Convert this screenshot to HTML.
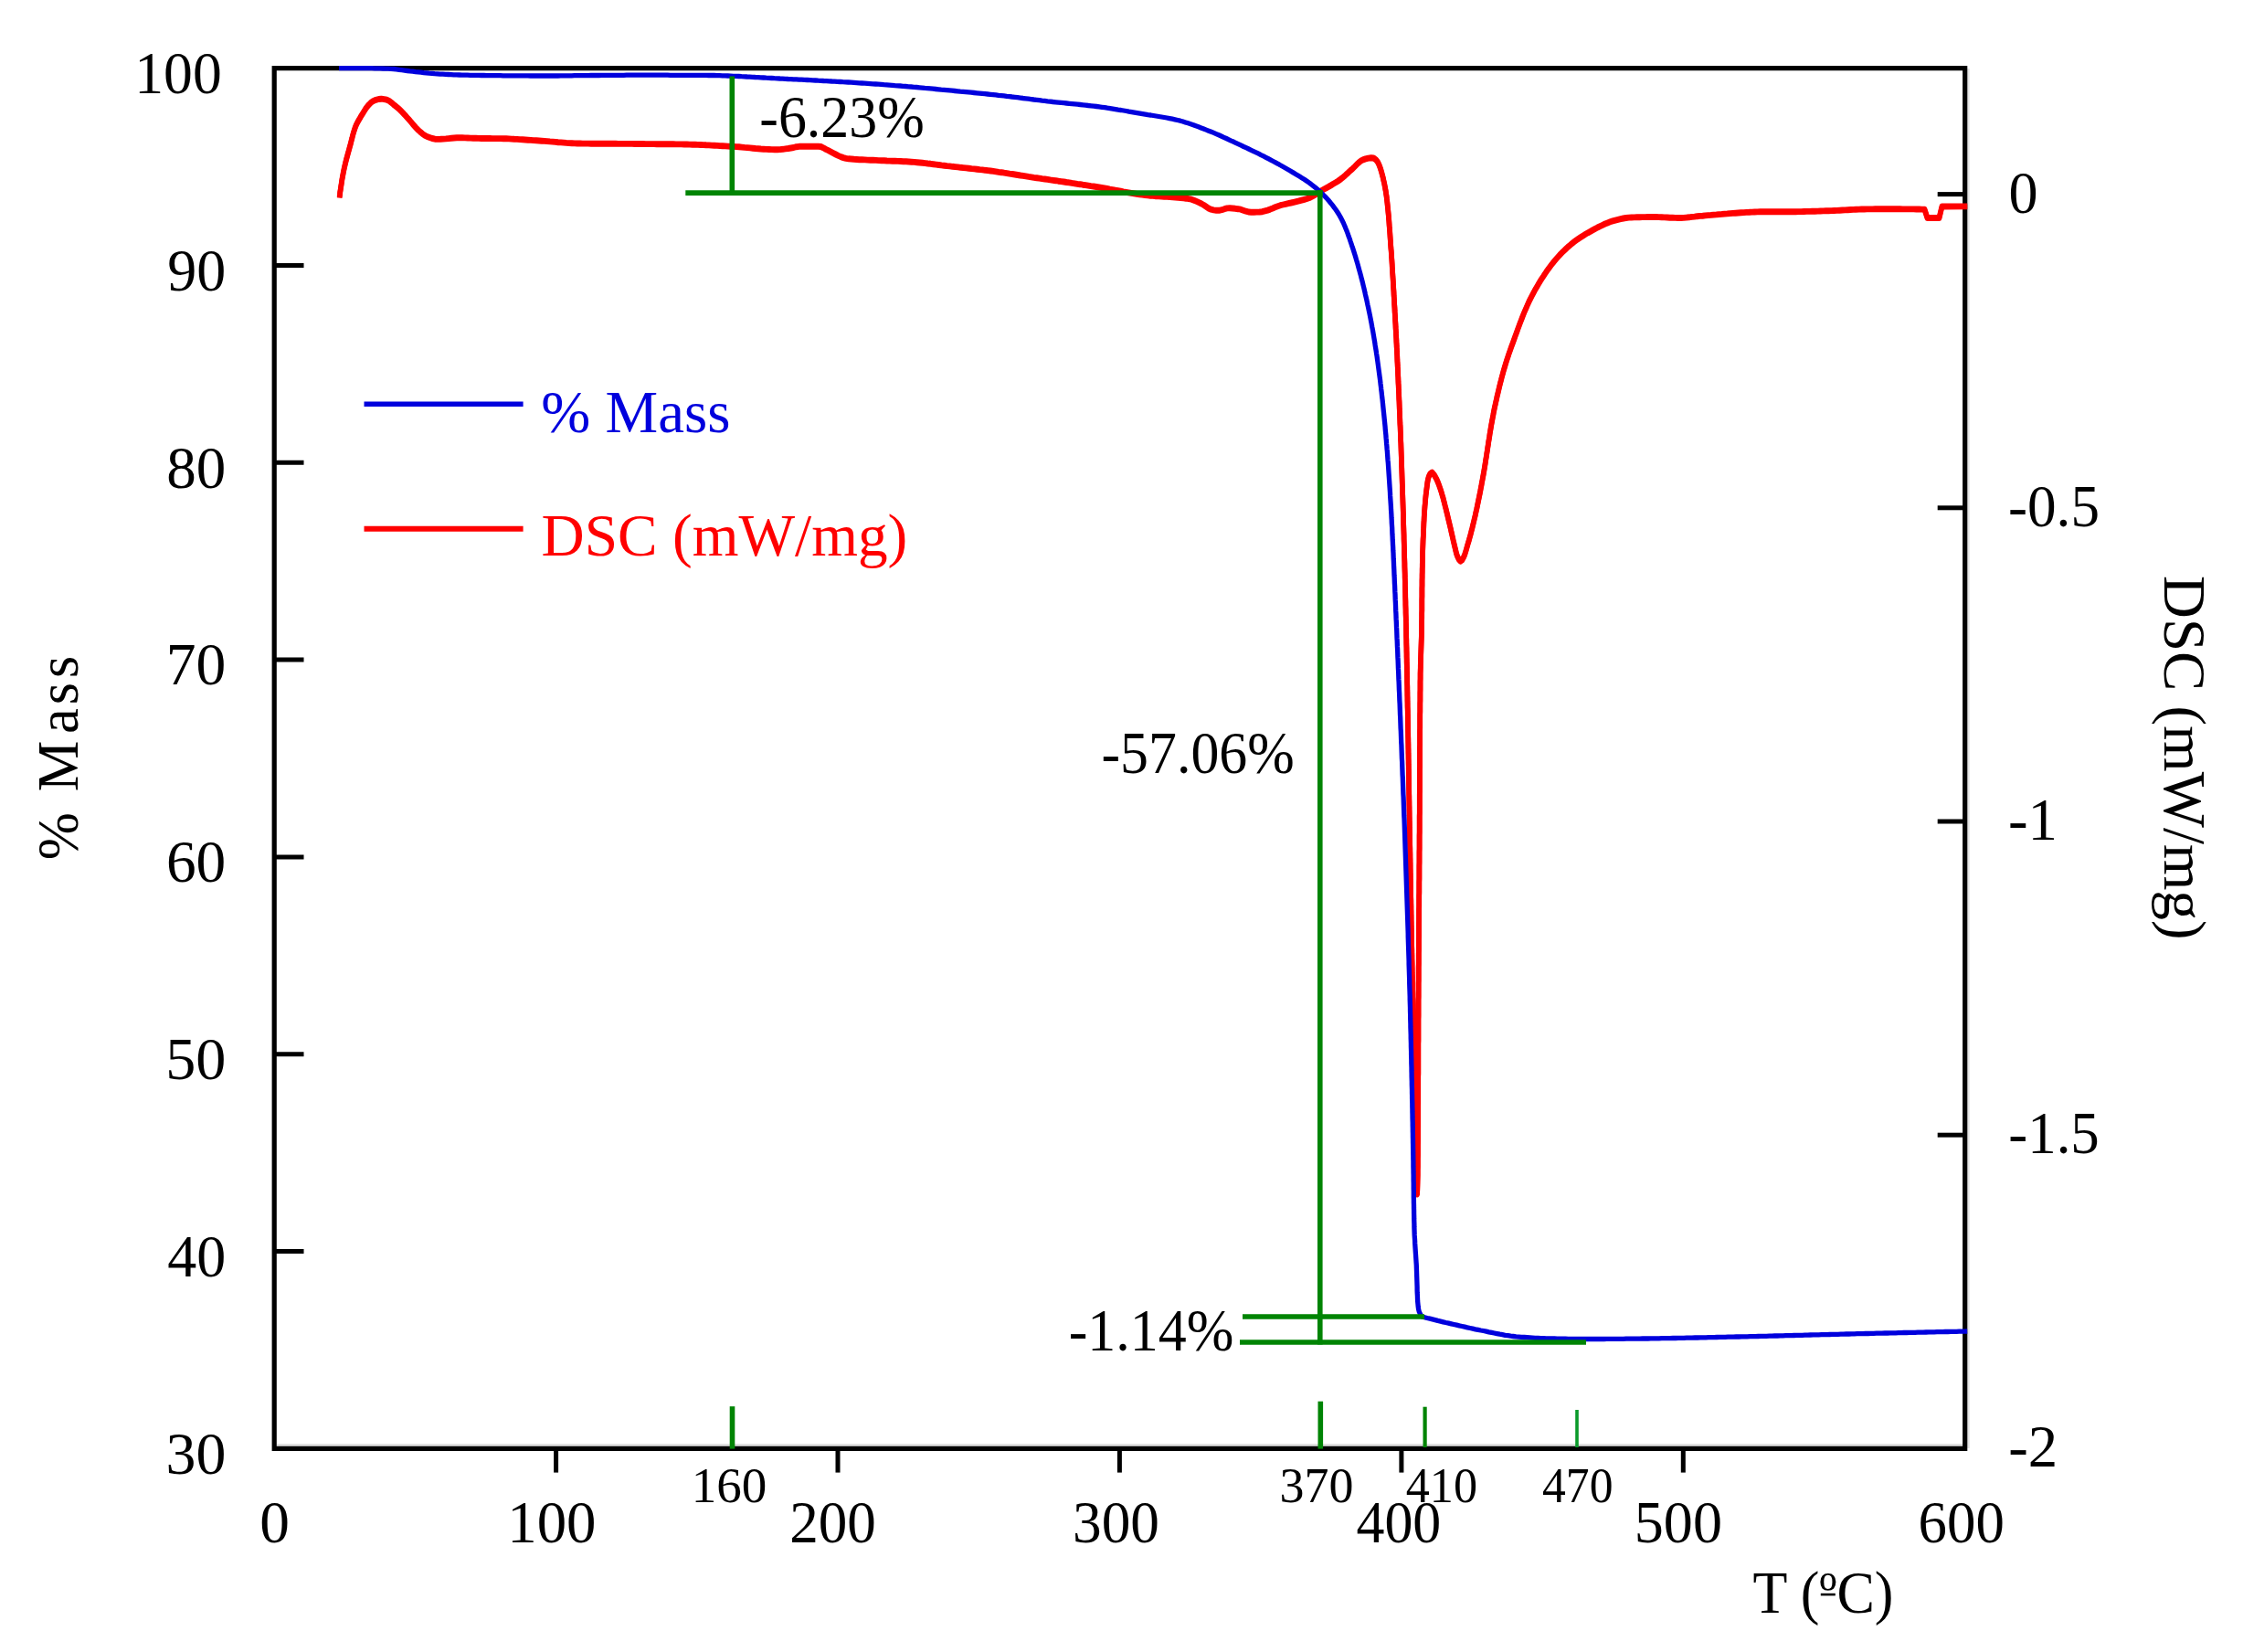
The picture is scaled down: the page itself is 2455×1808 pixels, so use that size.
<!DOCTYPE html>
<html lang="en"><head><meta charset="utf-8"><title>TGA / DSC curve</title>
<style>html,body{margin:0;padding:0;background:#fff}body{width:2455px;height:1808px;overflow:hidden}svg{display:block}text{font-family:"Liberation Serif",serif;font-size:64px;fill:#000}.s{font-size:55px}</style></head><body>
<svg width="2455" height="1808" viewBox="0 0 2455 1808">
<rect width="2455" height="1808" fill="#fff"/>
<path d="M303 1581.8H2148.2" stroke="#dcdcdc" stroke-width="3"/><path d="M2154.4 75V1585" stroke="#e2e2e2" stroke-width="2.6"/>
<rect x="300.20" y="74.65" width="1850.50" height="1510.75" fill="none" stroke="#000" stroke-width="5.2"/>
<g stroke="#000" stroke-width="5" fill="none">
<path d="M300.2 290.5H332.5"/>
<path d="M300.2 506.3H332.5"/>
<path d="M300.2 722.1H332.5"/>
<path d="M300.2 937.9H332.5"/>
<path d="M300.2 1153.8H332.5"/>
<path d="M300.2 1369.6H332.5"/>
<path d="M2120.7 212.6H2150.7"/>
<path d="M2120.7 555.8H2150.7"/>
<path d="M2120.7 899.0H2150.7"/>
<path d="M2120.7 1242.2H2150.7"/>
<path d="M608.6 1585.4V1611.6"/>
<path d="M917.0 1585.4V1611.6"/>
<path d="M1225.4 1585.4V1611.6"/>
<path d="M1533.9 1585.4V1611.6"/>
<path d="M1842.3 1585.4V1611.6"/>
</g>
<g stroke="#ff0000" stroke-width="5.7" fill="none" stroke-linejoin="round"><path id="dsc" d="M371.6 216.0 372.0 213.0 372.3 210.0 372.8 207.1 373.2 204.1 373.7 201.1 374.1 198.2 374.6 195.2 375.2 192.3 375.7 189.3 376.3 186.4 376.9 183.4 377.6 180.5 378.3 177.6 379.0 174.7 379.8 171.8 380.6 168.9 381.4 166.0 382.2 163.1 383.0 160.2 383.8 157.3 384.5 154.4 385.3 151.4 386.0 148.5 386.8 145.6 387.7 142.8 388.6 140.0 389.7 137.2 391.0 134.5 392.5 131.8 394.0 129.2 395.5 126.6 397.1 124.1 398.7 121.5 400.3 118.9 402.1 116.5 404.0 114.3 406.2 112.2 408.7 110.4 411.4 109.3 414.4 108.5 417.4 108.2 420.4 108.6 423.3 109.2 425.9 110.4 428.4 112.3 430.7 114.3 433.1 116.2 435.3 118.1 437.6 120.1 439.7 122.2 441.8 124.4 443.8 126.6 445.8 128.9 447.8 131.1 449.8 133.4 451.7 135.7 453.7 138.0 455.7 140.2 457.8 142.4 460.0 144.4 462.3 146.3 464.8 148.1 467.4 149.5 470.2 150.5 473.1 151.5 476.1 152.2 479.0 152.4 482.0 152.3 485.0 152.1 488.0 151.9 491.0 151.6 494.0 151.3 497.0 151.0 500.0 150.8 503.0 150.8 506.0 150.8 509.0 150.9 512.0 151.0 515.0 151.1 518.0 151.2 521.0 151.3 524.0 151.4 527.0 151.5 530.0 151.5 533.0 151.5 536.0 151.5 539.0 151.6 542.0 151.6 545.0 151.6 548.0 151.6 551.0 151.7 554.0 151.8 557.0 151.9 560.0 152.1 563.0 152.3 566.0 152.4 569.0 152.6 572.0 152.8 575.0 153.0 578.0 153.2 581.0 153.4 584.0 153.6 587.0 153.8 590.0 154.0 593.0 154.2 595.9 154.4 598.9 154.6 601.9 154.9 604.9 155.1 607.9 155.4 610.9 155.7 613.9 155.9 616.9 156.1 619.9 156.4 622.9 156.6 625.9 156.7 628.9 156.9 631.9 157.0 634.9 157.0 637.9 157.1 640.9 157.1 643.9 157.1 646.9 157.2 649.9 157.2 652.9 157.2 655.9 157.2 658.9 157.2 661.9 157.3 664.9 157.3 667.9 157.3 670.9 157.3 673.9 157.3 676.9 157.4 679.9 157.4 682.9 157.4 685.9 157.4 688.9 157.4 691.9 157.4 694.9 157.5 697.9 157.5 700.9 157.5 703.9 157.5 706.9 157.6 709.9 157.6 712.9 157.6 715.9 157.6 718.9 157.7 721.9 157.7 724.9 157.7 727.9 157.7 730.9 157.8 733.9 157.8 736.9 157.8 739.9 157.9 742.9 157.9 745.9 157.9 748.9 158.0 751.9 158.0 754.9 158.1 757.9 158.2 760.9 158.3 763.9 158.4 766.9 158.5 769.9 158.6 772.9 158.8 775.9 158.9 778.9 159.1 781.9 159.2 784.9 159.4 787.9 159.6 790.9 159.7 793.9 159.9 796.9 160.1 799.9 160.2 802.9 160.4 805.9 160.6 808.9 160.8 811.9 161.1 814.9 161.4 817.9 161.6 820.9 161.9 823.9 162.2 826.9 162.5 829.8 162.7 832.8 163.0 835.8 163.2 838.8 163.4 841.8 163.5 844.8 163.6 847.8 163.7 850.8 163.7 853.8 163.6 856.8 163.3 859.8 162.9 862.7 162.5 865.7 162.0 868.7 161.5 871.6 160.7 874.6 160.3 877.5 160.3 880.6 160.3 883.6 160.3 886.7 160.3 889.7 160.3 892.7 160.3 895.6 160.3 898.5 160.5 901.2 161.8 903.9 163.4 906.6 164.7 909.3 166.1 912.1 167.6 914.8 169.0 917.5 170.4 920.3 171.6 923.1 172.6 925.9 173.4 928.8 173.8 931.7 174.0 934.6 174.3 937.6 174.5 940.6 174.7 943.6 174.8 946.6 174.9 949.7 175.1 952.7 175.2 955.7 175.3 958.8 175.4 961.8 175.6 964.8 175.7 967.8 175.8 970.8 176.0 973.8 176.1 976.8 176.2 979.8 176.3 982.8 176.4 985.8 176.5 988.8 176.7 991.8 176.8 994.7 177.0 997.7 177.2 1000.7 177.4 1003.7 177.7 1006.7 178.0 1009.7 178.3 1012.7 178.6 1015.6 179.0 1018.6 179.3 1021.6 179.7 1024.6 180.1 1027.6 180.5 1030.5 180.9 1033.5 181.2 1036.5 181.6 1039.5 181.9 1042.5 182.3 1045.5 182.6 1048.4 182.9 1051.4 183.3 1054.4 183.6 1057.4 183.9 1060.4 184.2 1063.4 184.6 1066.3 184.9 1069.3 185.2 1072.3 185.6 1075.3 185.9 1078.3 186.3 1081.2 186.6 1084.2 187.0 1087.2 187.4 1090.2 187.8 1093.1 188.3 1096.1 188.7 1099.1 189.2 1102.0 189.6 1105.0 190.1 1108.0 190.5 1110.9 191.0 1113.9 191.5 1116.9 192.0 1119.8 192.4 1122.8 192.9 1125.8 193.4 1128.7 193.8 1131.7 194.3 1134.7 194.7 1137.6 195.1 1140.6 195.6 1143.6 196.0 1146.5 196.4 1149.5 196.9 1152.5 197.3 1155.5 197.7 1158.4 198.2 1161.4 198.6 1164.4 199.0 1167.3 199.5 1170.3 199.9 1173.3 200.4 1176.2 200.8 1179.2 201.3 1182.2 201.7 1185.1 202.2 1188.1 202.6 1191.1 203.1 1194.0 203.6 1197.0 204.0 1200.0 204.5 1202.9 205.0 1205.9 205.5 1208.8 206.0 1211.8 206.5 1214.8 207.1 1217.7 207.6 1220.7 208.2 1223.6 208.7 1226.6 209.2 1229.5 209.8 1232.5 210.3 1235.4 210.8 1238.4 211.3 1241.4 211.8 1244.3 212.3 1247.3 212.7 1250.3 213.1 1253.2 213.5 1256.2 213.9 1259.2 214.2 1262.2 214.4 1265.2 214.7 1268.2 214.9 1271.3 215.1 1274.3 215.3 1277.3 215.4 1280.4 215.6 1283.4 215.8 1286.4 216.0 1289.4 216.3 1292.3 216.5 1295.3 216.9 1298.2 217.2 1301.1 217.7 1304.0 218.2 1306.8 219.2 1309.6 220.4 1312.3 221.7 1315.1 223.0 1317.7 224.5 1320.3 226.3 1322.8 228.0 1325.5 229.2 1328.3 229.8 1331.3 230.2 1334.3 230.3 1337.3 229.7 1340.2 228.7 1343.1 227.9 1346.0 227.8 1349.0 228.0 1352.0 228.3 1355.0 228.7 1358.0 229.2 1360.8 230.2 1363.7 231.2 1366.6 232.0 1369.5 232.2 1372.5 232.2 1375.6 232.1 1378.6 232.0 1381.5 231.7 1384.5 230.9 1387.4 230.1 1390.2 229.1 1393.0 228.0 1395.7 226.8 1398.5 225.7 1401.4 224.7 1404.3 224.0 1407.2 223.3 1410.1 222.6 1413.0 222.0 1416.0 221.3 1418.9 220.6 1421.8 219.9 1424.7 219.1 1427.7 218.3 1430.5 217.5 1433.3 216.5 1436.0 215.2 1438.6 213.7 1441.1 212.1 1443.7 210.4 1446.2 208.8 1448.8 207.3 1451.5 205.8 1454.1 204.4 1456.7 202.9 1459.3 201.3 1461.9 199.8 1464.4 198.2 1466.8 196.5 1469.2 194.7 1471.5 192.8 1473.7 190.7 1475.9 188.7 1478.1 186.6 1480.4 184.7 1482.6 182.5 1484.8 180.2 1487.0 178.1 1489.3 176.2 1491.8 174.9 1494.6 173.9 1497.7 173.1 1500.7 172.7 1503.4 173.0 1506.0 174.9 1507.8 177.1 1509.2 179.8 1510.3 182.7 1511.3 185.6 1512.1 188.4 1512.9 191.3 1513.7 194.3 1514.3 197.2 1515.0 200.1 1515.6 203.1 1516.1 206.0 1516.7 209.0 1517.1 212.0 1517.6 214.9 1517.9 217.9 1518.3 220.9 1518.6 223.8 1518.9 226.8 1519.2 229.8 1519.5 232.8 1519.8 235.8 1520.0 238.8 1520.3 241.8 1520.5 244.8 1520.7 247.8 1521.0 250.8 1521.2 253.8 1521.4 256.8 1521.6 259.8 1521.8 262.8 1522.0 265.7 1522.2 268.7 1522.4 271.7 1522.7 274.7 1522.9 277.7 1523.1 280.7 1523.3 283.7 1523.5 286.7 1523.7 289.7 1523.8 292.7 1524.0 295.7 1524.2 298.7 1524.4 301.7 1524.6 304.7 1524.8 307.7 1524.9 310.7 1525.1 313.7 1525.3 316.7 1525.5 319.7 1525.6 322.7 1525.8 325.7 1526.0 328.7 1526.1 331.6 1526.3 334.6 1526.5 337.6 1526.6 340.6 1526.8 343.6 1527.0 346.6 1527.1 349.6 1527.3 352.6 1527.5 355.6 1527.6 358.6 1527.8 361.6 1527.9 364.6 1528.1 367.6 1528.3 370.6 1528.4 373.6 1528.6 376.6 1528.7 379.6 1528.9 382.6 1529.0 385.6 1529.2 388.6 1529.3 391.6 1529.4 394.6 1529.6 397.6 1529.7 400.6 1529.9 403.6 1530.0 406.6 1530.1 409.6 1530.3 412.6 1530.4 415.6 1530.5 418.6 1530.7 421.6 1530.8 424.6 1530.9 427.6 1531.1 430.6 1531.2 433.6 1531.3 436.6 1531.5 439.6 1531.6 442.6 1531.7 445.6 1531.8 448.6 1532.0 451.6 1532.1 454.6 1532.2 457.6 1532.3 460.6 1532.4 463.6 1532.6 466.6 1532.7 469.6 1532.8 472.6 1532.9 475.5 1533.0 478.5 1533.1 481.5 1533.3 484.5 1533.4 487.5 1533.5 490.5 1533.6 493.5 1533.7 496.5 1533.8 499.5 1533.9 502.5 1534.0 505.5 1534.1 508.5 1534.2 511.5 1534.3 514.5 1534.4 517.5 1534.5 520.5 1534.6 523.5 1534.7 526.5 1534.8 529.5 1534.9 532.5 1535.0 535.5 1535.1 538.5 1535.2 541.5 1535.3 544.5 1535.4 547.5 1535.5 550.5 1535.6 553.5 1535.7 556.5 1535.8 559.5 1535.9 562.5 1536.0 565.5 1536.0 568.5 1536.1 571.5 1536.2 574.5 1536.3 577.5 1536.4 580.5 1536.5 583.5 1536.6 586.5 1536.6 589.5 1536.7 592.5 1536.8 595.5 1536.9 598.5 1537.0 601.5 1537.0 604.5 1537.1 607.5 1537.2 610.5 1537.3 613.5 1537.4 616.5 1537.4 619.5 1537.5 622.5 1537.6 625.5 1537.7 628.5 1537.7 631.5 1537.8 634.5 1537.9 637.5 1537.9 640.5 1538.0 643.5 1538.1 646.5 1538.2 649.5 1538.2 652.5 1538.3 655.5 1538.4 658.5 1538.4 661.5 1538.5 664.5 1538.6 667.5 1538.6 670.5 1538.7 673.5 1538.8 676.5 1538.8 679.5 1538.9 682.5 1539.0 685.5 1539.0 688.5 1539.1 691.5 1539.1 694.6 1539.2 697.6 1539.3 700.6 1539.3 703.6 1539.4 706.6 1539.5 709.6 1539.5 712.6 1539.6 715.6 1539.6 718.6 1539.7 721.6 1539.7 724.6 1539.8 727.6 1539.9 730.6 1539.9 733.6 1540.0 736.6 1540.0 739.6 1540.1 742.6 1540.1 745.6 1540.2 748.6 1540.3 751.6 1540.3 754.6 1540.4 757.6 1540.4 760.6 1540.5 763.6 1540.5 766.6 1540.6 769.6 1540.6 772.6 1540.7 775.6 1540.8 778.6 1540.8 781.6 1540.9 784.6 1540.9 787.6 1541.0 790.6 1541.0 793.6 1541.1 796.6 1541.1 799.6 1541.2 802.6 1541.2 805.6 1541.3 808.6 1541.3 811.6 1541.4 814.6 1541.4 817.6 1541.5 820.6 1541.5 823.6 1541.6 826.6 1541.6 829.6 1541.7 832.6 1541.7 835.6 1541.8 838.6 1541.8 841.6 1541.9 844.6 1541.9 847.6 1542.0 850.6 1542.0 853.6 1542.0 856.6 1542.1 859.6 1542.1 862.6 1542.2 865.6 1542.2 868.6 1542.3 871.6 1542.3 874.6 1542.4 877.6 1542.4 880.6 1542.5 883.6 1542.5 886.6 1542.6 889.6 1542.6 892.6 1542.7 895.6 1542.7 898.6 1542.8 901.6 1542.8 904.6 1542.9 907.6 1542.9 910.6 1543.0 913.6 1543.0 916.6 1543.1 919.6 1543.1 922.6 1543.2 925.6 1543.3 928.6 1543.3 931.6 1543.4 934.6 1543.4 937.6 1543.5 940.6 1543.5 943.6 1543.6 946.6 1543.6 949.6 1543.7 952.6 1543.7 955.6 1543.8 958.6 1543.8 961.6 1543.9 964.6 1543.9 967.6 1544.0 970.6 1544.0 973.6 1544.1 976.6 1544.1 979.6 1544.2 982.6 1544.3 985.6 1544.3 988.6 1544.4 991.6 1544.4 994.6 1544.5 997.6 1544.5 1000.6 1544.6 1003.6 1544.6 1006.6 1544.7 1009.6 1544.7 1012.6 1544.8 1015.6 1544.9 1018.6 1544.9 1021.6 1545.0 1024.6 1545.0 1027.6 1545.1 1030.6 1545.1 1033.6 1545.2 1036.6 1545.3 1039.6 1545.3 1042.6 1545.4 1045.6 1545.4 1048.6 1545.5 1051.6 1545.6 1054.6 1545.6 1057.6 1545.7 1060.6 1545.7 1063.6 1545.8 1066.6 1545.9 1069.6 1545.9 1072.6 1546.0 1075.6 1546.1 1078.6 1546.1 1081.7 1546.2 1084.7 1546.3 1087.7 1546.3 1090.7 1546.4 1093.7 1546.5 1096.7 1546.6 1099.7 1546.6 1102.7 1546.7 1105.7 1546.8 1108.7 1546.9 1111.7 1546.9 1114.7 1547.0 1117.7 1547.1 1120.7 1547.2 1123.7 1547.2 1126.7 1547.3 1129.7 1547.4 1132.7 1547.5 1135.7 1547.5 1138.7 1547.6 1141.7 1547.7 1144.7 1547.8 1147.7 1547.8 1150.7 1547.9 1153.7 1548.0 1156.7 1548.1 1159.7 1548.1 1162.7 1548.2 1165.7 1548.3 1168.7 1548.4 1171.7 1548.4 1174.7 1548.5 1177.7 1548.6 1180.7 1548.6 1183.7 1548.7 1186.7 1548.8 1189.7 1548.8 1192.7 1548.9 1195.7 1549.0 1198.7 1549.0 1201.7 1549.1 1204.9 1549.2 1208.2 1549.2 1211.6 1549.3 1215.2 1549.3 1218.9 1549.4 1222.6 1549.4 1226.5 1549.5 1230.4 1549.5 1234.3 1549.6 1238.3 1549.6 1242.3 1549.7 1246.3 1549.7 1250.3 1549.8 1254.2 1549.8 1258.2 1549.9 1262.0 1549.9 1265.8 1550.0 1269.6 1550.0 1273.2 1550.1 1276.7 1550.1 1280.1 1550.2 1283.4 1550.2 1286.5 1550.3 1289.5 1550.3 1292.3 1550.4 1294.8 1550.5 1297.2 1550.5 1299.4 1550.6 1301.3 1550.6 1302.9 1550.7 1304.3 1550.8 1305.5 1550.8 1306.3 1550.9 1306.8 1551.0 1307.0 1551.1 1306.4 1551.2 1304.4 1551.3 1301.5 1551.4 1297.9 1551.5 1293.9 1551.6 1290.0 1551.7 1286.4 1551.7 1283.3 1551.7 1280.3 1551.8 1277.3 1551.8 1274.3 1551.8 1271.3 1551.8 1268.3 1551.9 1265.3 1551.9 1262.3 1551.9 1259.3 1551.9 1256.3 1551.9 1253.3 1552.0 1250.3 1552.0 1247.3 1552.0 1244.3 1552.0 1241.3 1552.0 1238.3 1552.0 1235.3 1552.1 1232.3 1552.1 1229.3 1552.1 1226.3 1552.1 1223.3 1552.1 1220.3 1552.1 1217.3 1552.1 1214.3 1552.1 1211.3 1552.2 1208.3 1552.2 1205.3 1552.2 1202.3 1552.2 1199.3 1552.2 1196.3 1552.2 1193.3 1552.2 1190.3 1552.2 1187.3 1552.2 1184.3 1552.2 1181.3 1552.2 1178.3 1552.3 1175.3 1552.3 1172.3 1552.3 1169.3 1552.3 1166.3 1552.3 1163.3 1552.3 1160.3 1552.3 1157.3 1552.3 1154.3 1552.3 1151.3 1552.3 1148.3 1552.3 1145.3 1552.3 1142.3 1552.4 1139.3 1552.4 1136.3 1552.4 1133.2 1552.4 1130.2 1552.4 1127.2 1552.4 1124.2 1552.4 1121.2 1552.4 1118.2 1552.4 1115.2 1552.5 1112.2 1552.5 1109.2 1552.5 1106.2 1552.5 1103.2 1552.5 1100.2 1552.5 1097.2 1552.5 1094.2 1552.6 1091.2 1552.6 1088.2 1552.6 1085.2 1552.6 1082.2 1552.6 1079.2 1552.6 1076.2 1552.7 1073.2 1552.7 1070.2 1552.7 1067.2 1552.7 1064.2 1552.7 1061.2 1552.7 1058.2 1552.8 1055.2 1552.8 1052.2 1552.8 1049.2 1552.8 1046.2 1552.8 1043.2 1552.9 1040.2 1552.9 1037.2 1552.9 1034.2 1552.9 1031.2 1552.9 1028.2 1553.0 1025.2 1553.0 1022.2 1553.0 1019.2 1553.0 1016.2 1553.0 1013.2 1553.0 1010.2 1553.1 1007.2 1553.1 1004.2 1553.1 1001.2 1553.1 998.2 1553.1 995.2 1553.2 992.2 1553.2 989.2 1553.2 986.2 1553.2 983.2 1553.2 980.2 1553.3 977.2 1553.3 974.2 1553.3 971.2 1553.3 968.2 1553.3 965.2 1553.4 962.2 1553.4 959.2 1553.4 956.2 1553.4 953.2 1553.4 950.2 1553.4 947.2 1553.5 944.2 1553.5 941.2 1553.5 938.2 1553.5 935.2 1553.5 932.2 1553.6 929.2 1553.6 926.2 1553.6 923.2 1553.6 920.2 1553.6 917.2 1553.6 914.2 1553.7 911.2 1553.7 908.2 1553.7 905.2 1553.7 902.2 1553.7 899.2 1553.7 896.2 1553.7 893.1 1553.8 890.1 1553.8 887.1 1553.8 884.1 1553.8 881.1 1553.8 878.1 1553.8 875.1 1553.8 872.1 1553.8 869.1 1553.9 866.1 1553.9 863.1 1553.9 860.1 1553.9 857.1 1553.9 854.1 1553.9 851.1 1553.9 848.1 1553.9 845.1 1553.9 842.1 1554.0 839.1 1554.0 836.1 1554.0 833.1 1554.0 830.1 1554.0 827.1 1554.0 824.1 1554.0 821.1 1554.0 818.1 1554.1 815.1 1554.1 812.1 1554.1 809.1 1554.1 806.1 1554.1 803.1 1554.1 800.1 1554.2 797.1 1554.2 794.1 1554.2 791.1 1554.2 788.1 1554.2 785.1 1554.2 782.1 1554.3 779.1 1554.3 776.1 1554.3 773.1 1554.3 770.1 1554.4 767.1 1554.4 764.1 1554.4 761.1 1554.4 758.1 1554.5 755.1 1554.5 752.1 1554.5 749.1 1554.5 746.1 1554.6 743.1 1554.6 740.1 1554.6 737.1 1554.7 734.1 1554.8 731.1 1554.8 728.1 1554.9 725.1 1555.0 722.1 1555.1 719.1 1555.2 716.1 1555.3 713.1 1555.4 710.1 1555.5 707.1 1555.6 704.1 1555.7 701.1 1555.8 698.1 1555.9 695.1 1556.0 692.1 1556.0 689.1 1556.1 686.1 1556.1 683.1 1556.1 680.1 1556.2 677.1 1556.2 674.1 1556.2 671.1 1556.3 668.1 1556.3 665.1 1556.3 662.1 1556.3 659.1 1556.3 656.1 1556.4 653.1 1556.4 650.1 1556.4 647.1 1556.4 644.1 1556.5 641.1 1556.5 638.1 1556.5 635.1 1556.6 632.1 1556.6 629.1 1556.7 626.1 1556.7 623.1 1556.8 620.1 1556.8 617.1 1556.9 614.1 1557.0 611.1 1557.0 608.1 1557.1 605.1 1557.2 602.1 1557.3 599.1 1557.4 596.1 1557.5 593.1 1557.6 590.1 1557.8 587.1 1557.9 584.1 1558.0 581.1 1558.2 578.1 1558.3 575.1 1558.4 572.1 1558.6 569.1 1558.7 566.1 1558.9 563.1 1559.1 560.1 1559.3 557.1 1559.5 554.1 1559.8 551.1 1560.0 548.1 1560.3 545.1 1560.6 542.1 1561.0 539.1 1561.3 536.2 1561.7 533.2 1562.1 530.2 1562.5 527.1 1563.1 524.1 1563.9 521.4 1565.4 518.4 1567.4 517.1 1569.5 519.4 1571.1 522.1 1572.5 524.7 1573.7 527.5 1574.8 530.3 1575.8 533.2 1576.8 536.0 1577.7 538.9 1578.5 541.7 1579.4 544.6 1580.1 547.5 1580.9 550.4 1581.6 553.3 1582.4 556.3 1583.1 559.2 1583.8 562.1 1584.5 565.0 1585.2 567.9 1585.9 570.9 1586.6 573.8 1587.3 576.7 1588.0 579.6 1588.6 582.6 1589.3 585.5 1590.0 588.4 1590.6 591.3 1591.3 594.3 1592.0 597.2 1592.7 600.1 1593.4 603.1 1594.1 606.0 1595.1 608.8 1596.6 612.0 1598.4 614.2 1600.1 613.1 1601.9 610.0 1603.1 607.2 1604.0 604.4 1604.9 601.4 1605.7 598.5 1606.5 595.6 1607.4 592.8 1608.2 589.9 1609.0 587.0 1609.8 584.1 1610.5 581.2 1611.3 578.3 1612.0 575.3 1612.7 572.4 1613.4 569.5 1614.1 566.6 1614.8 563.7 1615.4 560.7 1616.1 557.8 1616.7 554.9 1617.3 551.9 1617.9 549.0 1618.5 546.1 1619.1 543.1 1619.7 540.2 1620.3 537.2 1620.8 534.3 1621.4 531.3 1621.9 528.4 1622.5 525.4 1623.0 522.5 1623.6 519.5 1624.1 516.6 1624.6 513.6 1625.1 510.6 1625.6 507.7 1626.0 504.7 1626.5 501.7 1627.0 498.8 1627.4 495.8 1627.9 492.8 1628.3 489.9 1628.8 486.9 1629.2 483.9 1629.7 481.0 1630.2 478.0 1630.6 475.0 1631.1 472.1 1631.6 469.1 1632.1 466.2 1632.6 463.2 1633.2 460.3 1633.7 457.3 1634.3 454.4 1634.8 451.4 1635.4 448.5 1636.0 445.5 1636.7 442.6 1637.3 439.7 1638.0 436.7 1638.6 433.8 1639.3 430.9 1640.0 428.0 1640.7 425.0 1641.4 422.1 1642.1 419.2 1642.9 416.3 1643.6 413.4 1644.4 410.5 1645.2 407.6 1646.0 404.7 1646.9 401.8 1647.7 399.0 1648.6 396.1 1649.5 393.2 1650.5 390.4 1651.4 387.5 1652.4 384.7 1653.4 381.9 1654.4 379.0 1655.5 376.2 1656.5 373.4 1657.5 370.6 1658.5 367.8 1659.6 364.9 1660.6 362.1 1661.6 359.3 1662.7 356.4 1663.7 353.6 1664.8 350.8 1665.9 348.0 1667.0 345.2 1668.1 342.4 1669.3 339.6 1670.5 336.9 1671.7 334.1 1672.9 331.4 1674.2 328.7 1675.5 326.1 1676.9 323.4 1678.3 320.8 1679.7 318.1 1681.2 315.5 1682.7 312.9 1684.2 310.3 1685.8 307.7 1687.4 305.1 1689.1 302.6 1690.7 300.1 1692.4 297.6 1694.2 295.1 1695.9 292.7 1697.7 290.3 1699.5 288.0 1701.4 285.7 1703.3 283.4 1705.3 281.1 1707.3 278.9 1709.4 276.7 1711.6 274.6 1713.8 272.5 1716.0 270.4 1718.3 268.5 1720.5 266.6 1722.9 264.7 1725.3 262.9 1727.7 261.2 1730.3 259.5 1732.8 257.9 1735.4 256.3 1738.0 254.8 1740.6 253.4 1743.2 251.9 1745.9 250.4 1748.5 249.0 1751.3 247.6 1754.0 246.3 1756.7 245.0 1759.5 243.9 1762.3 242.8 1765.1 241.9 1768.0 241.1 1770.9 240.4 1773.8 239.7 1776.8 239.0 1779.7 238.5 1782.7 238.1 1785.7 238.0 1788.7 237.9 1791.7 237.8 1794.7 237.7 1797.7 237.6 1800.7 237.6 1803.7 237.5 1806.7 237.5 1809.7 237.5 1812.7 237.5 1815.7 237.6 1818.7 237.7 1821.7 237.9 1824.7 238.0 1827.7 238.2 1830.7 238.3 1833.7 238.4 1836.7 238.5 1839.7 238.5 1842.7 238.4 1845.7 238.1 1848.7 237.8 1851.7 237.4 1854.7 237.1 1857.6 236.7 1860.6 236.4 1863.6 236.2 1866.6 235.9 1869.6 235.6 1872.6 235.4 1875.6 235.1 1878.6 234.9 1881.6 234.6 1884.5 234.4 1887.5 234.1 1890.5 233.9 1893.5 233.6 1896.5 233.4 1899.5 233.2 1902.5 233.0 1905.5 232.8 1908.5 232.6 1911.5 232.4 1914.5 232.3 1917.5 232.1 1920.5 232.0 1923.5 231.9 1926.5 231.8 1929.5 231.8 1932.5 231.8 1935.5 231.8 1938.5 231.8 1941.5 231.8 1944.5 231.7 1947.5 231.7 1950.5 231.7 1953.5 231.7 1956.5 231.7 1959.5 231.7 1962.5 231.7 1965.5 231.7 1968.5 231.6 1971.5 231.6 1974.5 231.5 1977.5 231.4 1980.5 231.4 1983.5 231.3 1986.5 231.2 1989.5 231.1 1992.5 231.0 1995.5 230.9 1998.5 230.8 2001.5 230.8 2004.5 230.6 2007.5 230.5 2010.5 230.4 2013.5 230.2 2016.5 230.0 2019.5 229.9 2022.5 229.7 2025.5 229.5 2028.5 229.4 2031.5 229.2 2034.5 229.1 2037.5 229.0 2040.5 229.0 2043.5 228.9 2046.5 228.9 2049.5 228.9 2052.5 228.8 2055.5 228.8 2058.5 228.8 2061.5 228.8 2064.5 228.8 2067.5 228.8 2070.5 228.8 2073.5 228.8 2076.5 228.8 2079.5 228.8 2082.5 228.9 2085.5 228.9 2088.5 228.9 2091.5 228.9 2094.5 228.9 2097.5 229.0 2100.5 229.0 2103.5 229.1 2106.5 229.3 2109.5 238.5 2122.5 238.5 2125.5 226.0 2153.2 225.9" transform="translate(0 -0.6)"/><use href="#dsc" y="1.2"/></g>
<path d="M371.0 74.6 374.0 74.6 377.0 74.6 380.0 74.6 383.0 74.6 386.0 74.6 389.0 74.6 392.0 74.6 395.0 74.6 398.0 74.6 401.0 74.7 404.0 74.7 407.0 74.7 410.0 74.8 413.0 74.9 416.0 74.9 419.0 75.0 422.0 75.1 425.0 75.2 428.0 75.3 431.0 75.5 433.9 75.9 436.9 76.3 439.9 76.7 442.9 77.1 445.9 77.5 448.8 77.9 451.8 78.2 454.8 78.6 457.8 78.9 460.8 79.2 463.8 79.6 466.7 79.9 469.7 80.2 472.7 80.4 475.7 80.7 478.7 80.9 481.7 81.1 484.7 81.2 487.7 81.4 490.7 81.5 493.7 81.6 496.7 81.8 499.7 81.9 502.7 82.0 505.7 82.1 508.7 82.2 511.7 82.2 514.7 82.3 517.7 82.4 520.7 82.4 523.7 82.4 526.7 82.5 529.7 82.5 532.7 82.6 535.7 82.6 538.7 82.6 541.7 82.7 544.7 82.7 547.7 82.7 550.7 82.8 553.7 82.8 556.7 82.8 559.7 82.8 562.7 82.9 565.7 82.9 568.7 82.9 571.7 82.9 574.7 82.9 577.7 82.9 580.7 83.0 583.7 83.0 586.7 83.0 589.7 83.0 592.7 83.0 595.7 83.0 598.7 83.0 601.7 83.0 604.7 83.0 607.7 83.0 610.7 83.0 613.7 82.9 616.7 82.9 619.7 82.9 622.7 82.8 625.7 82.8 628.7 82.7 631.7 82.7 634.7 82.7 637.7 82.6 640.7 82.6 643.7 82.6 646.7 82.5 649.7 82.5 652.7 82.5 655.7 82.5 658.7 82.4 661.7 82.4 664.7 82.4 667.7 82.4 670.7 82.3 673.7 82.3 676.7 82.3 679.7 82.3 682.7 82.3 685.7 82.2 688.7 82.2 691.7 82.2 694.7 82.2 697.7 82.2 700.7 82.2 703.7 82.2 706.7 82.2 709.7 82.2 712.7 82.2 715.7 82.2 718.7 82.2 721.7 82.2 724.7 82.2 727.7 82.2 730.7 82.2 733.7 82.3 736.7 82.3 739.7 82.3 742.7 82.3 745.7 82.3 748.7 82.3 751.7 82.3 754.7 82.3 757.7 82.3 760.7 82.3 763.7 82.4 766.7 82.4 769.7 82.4 772.7 82.4 775.7 82.5 778.7 82.5 781.7 82.5 784.7 82.6 787.7 82.7 790.7 82.8 793.7 82.9 796.7 83.0 799.7 83.1 802.7 83.3 805.6 83.4 808.6 83.5 811.6 83.7 814.6 83.8 817.6 84.0 820.6 84.1 823.6 84.3 826.6 84.5 829.6 84.6 832.6 84.8 835.6 85.0 838.6 85.2 841.6 85.3 844.6 85.5 847.6 85.7 850.6 85.8 853.6 86.0 856.6 86.1 859.6 86.3 862.6 86.5 865.6 86.6 868.6 86.8 871.6 86.9 874.6 87.1 877.5 87.2 880.5 87.4 883.5 87.5 886.5 87.7 889.5 87.9 892.5 88.0 895.5 88.2 898.5 88.3 901.5 88.5 904.5 88.6 907.5 88.8 910.5 89.0 913.5 89.1 916.5 89.3 919.5 89.5 922.5 89.7 925.5 89.8 928.5 90.0 931.5 90.2 934.5 90.4 937.5 90.6 940.4 90.8 943.4 91.0 946.4 91.2 949.4 91.4 952.4 91.6 955.4 91.8 958.4 92.0 961.4 92.2 964.4 92.4 967.4 92.7 970.4 92.9 973.4 93.1 976.4 93.3 979.4 93.6 982.3 93.8 985.3 94.0 988.3 94.3 991.3 94.5 994.3 94.8 997.3 95.0 1000.3 95.3 1003.3 95.5 1006.3 95.8 1009.2 96.1 1012.2 96.4 1015.2 96.6 1018.2 96.9 1021.2 97.2 1024.2 97.5 1027.2 97.8 1030.2 98.1 1033.1 98.3 1036.1 98.6 1039.1 98.9 1042.1 99.2 1045.1 99.5 1048.1 99.8 1051.1 100.1 1054.0 100.3 1057.0 100.6 1060.0 100.9 1063.0 101.2 1066.0 101.5 1069.0 101.8 1072.0 102.1 1074.9 102.4 1077.9 102.7 1080.9 103.0 1083.9 103.3 1086.9 103.6 1089.9 103.9 1092.8 104.3 1095.8 104.6 1098.8 104.9 1101.8 105.3 1104.8 105.6 1107.7 106.0 1110.7 106.3 1113.7 106.7 1116.7 107.1 1119.7 107.5 1122.6 107.8 1125.6 108.2 1128.6 108.6 1131.6 109.0 1134.5 109.3 1137.5 109.7 1140.5 110.1 1143.5 110.4 1146.5 110.8 1149.4 111.1 1152.4 111.5 1155.4 111.8 1158.4 112.1 1161.4 112.4 1164.4 112.7 1167.3 113.0 1170.3 113.3 1173.3 113.6 1176.3 113.9 1179.3 114.2 1182.3 114.5 1185.3 114.8 1188.2 115.1 1191.2 115.5 1194.2 115.8 1197.2 116.1 1200.2 116.5 1203.1 116.9 1206.1 117.3 1209.1 117.7 1212.0 118.2 1215.0 118.6 1218.0 119.1 1220.9 119.6 1223.9 120.1 1226.8 120.5 1229.8 121.0 1232.8 121.5 1235.7 122.1 1238.7 122.6 1241.6 123.1 1244.6 123.6 1247.6 124.1 1250.5 124.6 1253.5 125.1 1256.4 125.6 1259.4 126.0 1262.4 126.5 1265.4 127.0 1268.3 127.5 1271.3 128.0 1274.3 128.5 1277.2 129.0 1280.1 129.6 1283.1 130.2 1286.0 130.8 1288.9 131.5 1291.8 132.2 1294.7 133.0 1297.5 133.9 1300.4 134.8 1303.2 135.7 1306.1 136.7 1308.9 137.8 1311.7 138.8 1314.6 139.9 1317.4 141.0 1320.2 142.1 1322.9 143.2 1325.7 144.3 1328.5 145.4 1331.2 146.6 1334.0 147.8 1336.7 149.0 1339.5 150.3 1342.2 151.5 1344.9 152.8 1347.6 154.1 1350.4 155.3 1353.1 156.6 1355.8 157.9 1358.5 159.2 1361.2 160.5 1363.9 161.7 1366.7 163.0 1369.4 164.3 1372.1 165.6 1374.8 166.9 1377.5 168.2 1380.2 169.6 1382.9 170.9 1385.6 172.3 1388.2 173.7 1390.9 175.1 1393.5 176.5 1396.1 177.9 1398.8 179.3 1401.3 180.8 1404.0 182.3 1406.6 183.8 1409.2 185.3 1411.8 186.8 1414.5 188.4 1417.1 189.9 1419.7 191.5 1422.3 193.1 1424.9 194.7 1427.5 196.3 1430.0 198.0 1432.4 199.7 1434.9 201.5 1437.2 203.3 1439.5 205.1 1441.8 207.0 1444.0 208.9 1446.1 210.9 1448.2 213.0 1450.3 215.1 1452.3 217.3 1454.4 219.6 1456.3 222.0 1458.3 224.4 1460.1 226.8 1461.9 229.3 1463.6 231.8 1465.2 234.3 1466.7 236.9 1468.1 239.4 1469.4 242.0 1470.7 244.7 1471.9 247.5 1473.0 250.3 1474.2 253.1 1475.2 255.9 1476.2 258.8 1477.3 261.6 1478.2 264.5 1479.2 267.4 1480.1 270.2 1481.1 273.0 1482.0 275.9 1482.9 278.7 1483.8 281.6 1484.6 284.5 1485.5 287.4 1486.3 290.3 1487.1 293.2 1487.9 296.1 1488.7 299.0 1489.5 301.9 1490.2 304.8 1491.0 307.7 1491.7 310.6 1492.4 313.5 1493.1 316.4 1493.8 319.3 1494.4 322.3 1495.1 325.2 1495.8 328.1 1496.4 331.0 1497.0 334.0 1497.7 336.9 1498.3 339.9 1498.9 342.8 1499.5 345.7 1500.1 348.7 1500.6 351.6 1501.2 354.6 1501.7 357.5 1502.3 360.5 1502.8 363.4 1503.3 366.4 1503.8 369.4 1504.3 372.3 1504.8 375.3 1505.2 378.2 1505.7 381.2 1506.2 384.2 1506.6 387.1 1507.1 390.1 1507.5 393.1 1507.9 396.0 1508.3 399.0 1508.7 402.0 1509.1 405.0 1509.5 407.9 1509.9 410.9 1510.3 413.9 1510.7 416.9 1511.0 419.8 1511.4 422.8 1511.7 425.8 1512.1 428.8 1512.4 431.8 1512.7 434.7 1513.1 437.7 1513.4 440.7 1513.7 443.7 1514.0 446.7 1514.3 449.7 1514.6 452.6 1514.9 455.6 1515.2 458.6 1515.5 461.6 1515.8 464.6 1516.1 467.6 1516.3 470.6 1516.6 473.6 1516.9 476.5 1517.1 479.5 1517.4 482.5 1517.6 485.5 1517.9 488.5 1518.1 491.5 1518.4 494.5 1518.6 497.5 1518.8 500.5 1519.0 503.5 1519.3 506.4 1519.5 509.4 1519.7 512.4 1519.9 515.4 1520.1 518.4 1520.3 521.4 1520.5 524.4 1520.7 527.4 1520.9 530.4 1521.1 533.4 1521.3 536.4 1521.5 539.4 1521.6 542.4 1521.8 545.4 1522.0 548.4 1522.2 551.4 1522.4 554.4 1522.5 557.3 1522.7 560.3 1522.9 563.3 1523.0 566.3 1523.2 569.3 1523.3 572.3 1523.5 575.3 1523.7 578.3 1523.8 581.3 1523.9 584.3 1524.1 587.3 1524.2 590.3 1524.4 593.3 1524.5 596.3 1524.7 599.3 1524.8 602.3 1525.0 605.3 1525.1 608.3 1525.2 611.3 1525.4 614.3 1525.5 617.3 1525.6 620.3 1525.8 623.3 1525.9 626.3 1526.0 629.3 1526.2 632.3 1526.3 635.3 1526.4 638.3 1526.6 641.3 1526.7 644.2 1526.8 647.2 1527.0 650.2 1527.1 653.2 1527.2 656.2 1527.4 659.2 1527.5 662.2 1527.6 665.2 1527.7 668.2 1527.9 671.2 1528.0 674.2 1528.1 677.2 1528.3 680.2 1528.4 683.2 1528.5 686.2 1528.7 689.2 1528.8 692.2 1528.9 695.2 1529.0 698.2 1529.2 701.2 1529.3 704.2 1529.4 707.2 1529.6 710.2 1529.7 713.2 1529.8 716.2 1529.9 719.2 1530.1 722.2 1530.2 725.2 1530.3 728.2 1530.4 731.2 1530.6 734.2 1530.7 737.2 1530.8 740.2 1530.9 743.2 1531.1 746.2 1531.2 749.2 1531.3 752.2 1531.4 755.1 1531.6 758.1 1531.7 761.1 1531.8 764.1 1531.9 767.1 1532.1 770.1 1532.2 773.1 1532.3 776.1 1532.4 779.1 1532.5 782.1 1532.7 785.1 1532.8 788.1 1532.9 791.1 1533.0 794.1 1533.1 797.1 1533.3 800.1 1533.4 803.1 1533.5 806.1 1533.6 809.1 1533.7 812.1 1533.9 815.1 1534.0 818.1 1534.1 821.1 1534.2 824.1 1534.3 827.1 1534.4 830.1 1534.6 833.1 1534.7 836.1 1534.8 839.1 1534.9 842.1 1535.0 845.1 1535.1 848.1 1535.3 851.1 1535.4 854.1 1535.5 857.1 1535.6 860.1 1535.7 863.1 1535.8 866.1 1535.9 869.1 1536.1 872.1 1536.2 875.1 1536.3 878.1 1536.4 881.1 1536.5 884.1 1536.6 887.1 1536.7 890.0 1536.8 893.0 1537.0 896.0 1537.1 899.0 1537.2 902.0 1537.3 905.0 1537.4 908.0 1537.5 911.0 1537.6 914.0 1537.7 917.0 1537.8 920.0 1537.9 923.0 1538.0 926.0 1538.1 929.0 1538.2 932.0 1538.3 935.0 1538.4 938.0 1538.5 941.0 1538.6 944.0 1538.7 947.0 1538.8 950.0 1538.9 953.0 1539.0 956.0 1539.1 959.0 1539.2 962.0 1539.3 965.0 1539.4 968.0 1539.5 971.0 1539.6 974.0 1539.7 977.0 1539.8 980.0 1539.9 983.0 1540.0 986.0 1540.1 989.0 1540.2 992.0 1540.3 995.0 1540.4 998.0 1540.5 1001.0 1540.6 1004.0 1540.7 1007.0 1540.8 1010.0 1540.9 1013.0 1541.0 1016.0 1541.1 1019.0 1541.2 1022.0 1541.2 1025.0 1541.3 1028.0 1541.4 1031.0 1541.5 1034.0 1541.6 1037.0 1541.7 1040.0 1541.8 1043.0 1541.9 1046.0 1542.0 1049.0 1542.1 1052.0 1542.1 1055.0 1542.2 1058.0 1542.3 1061.0 1542.4 1064.0 1542.5 1067.0 1542.6 1070.0 1542.7 1073.0 1542.7 1076.0 1542.8 1079.0 1542.9 1082.0 1543.0 1085.0 1543.1 1088.0 1543.2 1090.9 1543.2 1093.9 1543.3 1096.9 1543.4 1099.9 1543.5 1102.9 1543.5 1105.9 1543.6 1108.9 1543.7 1111.9 1543.7 1114.9 1543.8 1117.9 1543.9 1120.9 1543.9 1123.9 1544.0 1126.9 1544.1 1129.9 1544.2 1132.9 1544.2 1135.9 1544.3 1138.9 1544.4 1141.9 1544.4 1144.9 1544.5 1147.9 1544.6 1150.9 1544.6 1153.9 1544.7 1156.9 1544.8 1159.9 1544.8 1162.9 1544.9 1165.9 1545.0 1168.9 1545.0 1171.9 1545.1 1174.9 1545.1 1177.9 1545.2 1180.9 1545.3 1183.9 1545.3 1186.9 1545.4 1189.9 1545.5 1192.9 1545.5 1195.9 1545.6 1198.9 1545.6 1201.9 1545.7 1204.9 1545.8 1207.9 1545.8 1210.9 1545.9 1213.9 1545.9 1216.9 1546.0 1219.9 1546.0 1222.9 1546.1 1225.9 1546.2 1228.9 1546.2 1231.9 1546.3 1234.9 1546.3 1237.9 1546.4 1240.9 1546.4 1243.9 1546.5 1246.9 1546.5 1249.9 1546.6 1252.9 1546.6 1255.9 1546.7 1258.9 1546.7 1261.9 1546.8 1264.9 1546.8 1267.9 1546.9 1270.9 1546.9 1273.9 1546.9 1276.9 1547.0 1279.9 1547.0 1282.9 1547.1 1285.9 1547.1 1288.9 1547.1 1291.9 1547.2 1294.9 1547.2 1297.9 1547.2 1300.9 1547.3 1303.9 1547.3 1306.9 1547.3 1309.9 1547.4 1312.9 1547.4 1315.9 1547.5 1318.9 1547.5 1321.9 1547.6 1324.9 1547.6 1327.9 1547.7 1330.9 1547.7 1333.9 1547.8 1336.9 1547.9 1339.9 1547.9 1342.9 1548.0 1345.9 1548.1 1348.9 1548.2 1351.9 1548.4 1354.9 1548.6 1357.9 1548.7 1360.9 1548.9 1363.9 1549.1 1366.9 1549.3 1369.9 1549.5 1372.9 1549.7 1375.9 1549.9 1378.9 1550.1 1381.9 1550.3 1384.8 1550.4 1387.8 1550.5 1390.8 1550.6 1393.8 1550.7 1396.8 1550.8 1399.8 1550.9 1402.8 1551.0 1405.8 1551.1 1408.8 1551.1 1411.8 1551.2 1414.8 1551.4 1417.8 1551.5 1420.8 1551.6 1423.8 1551.9 1426.8 1552.2 1429.9 1552.6 1432.8 1553.3 1435.6 1554.6 1438.3 1556.2 1441.0 1559.1 1441.7 1562.0 1442.5 1565.0 1443.2 1567.9 1443.9 1570.8 1444.6 1573.7 1445.4 1576.7 1446.1 1579.6 1446.8 1582.5 1447.5 1585.5 1448.1 1588.4 1448.8 1591.3 1449.5 1594.3 1450.2 1597.2 1450.9 1600.1 1451.5 1603.1 1452.2 1606.0 1452.9 1609.0 1453.5 1611.9 1454.1 1614.9 1454.8 1617.8 1455.4 1620.8 1456.0 1623.7 1456.5 1626.7 1457.1 1629.6 1457.8 1632.6 1458.4 1635.5 1459.0 1638.5 1459.6 1641.5 1460.2 1644.4 1460.7 1647.4 1461.3 1650.4 1461.7 1653.4 1462.2 1656.3 1462.5 1659.3 1462.9 1662.3 1463.1 1665.3 1463.3 1668.3 1463.5 1671.3 1463.7 1674.3 1463.9 1677.3 1464.1 1680.3 1464.3 1683.3 1464.4 1686.4 1464.6 1689.4 1464.7 1692.4 1464.8 1695.4 1464.9 1698.4 1465.0 1701.4 1465.0 1704.4 1465.1 1707.5 1465.1 1710.5 1465.2 1713.5 1465.2 1716.5 1465.3 1719.5 1465.3 1722.5 1465.4 1725.5 1465.4 1728.5 1465.4 1731.6 1465.5 1734.6 1465.5 1737.6 1465.5 1740.6 1465.5 1743.6 1465.5 1746.6 1465.5 1749.6 1465.5 1752.6 1465.5 1755.7 1465.5 1758.7 1465.4 1761.7 1465.4 1764.7 1465.4 1767.7 1465.4 1770.7 1465.3 1773.7 1465.3 1776.7 1465.3 1779.8 1465.2 1782.8 1465.2 1785.8 1465.2 1788.8 1465.1 1791.8 1465.1 1794.8 1465.1 1797.8 1465.0 1800.8 1465.0 1803.8 1465.0 1806.9 1464.9 1809.9 1464.9 1812.9 1464.8 1815.9 1464.8 1818.9 1464.7 1821.9 1464.7 1824.9 1464.6 1827.9 1464.6 1831.0 1464.5 1834.0 1464.5 1837.0 1464.4 1840.0 1464.4 1843.0 1464.3 1846.0 1464.2 1849.0 1464.2 1852.0 1464.1 1855.1 1464.0 1858.1 1464.0 1861.1 1463.9 1864.1 1463.9 1867.1 1463.8 1870.1 1463.7 1873.1 1463.6 1876.1 1463.6 1879.1 1463.5 1882.2 1463.4 1885.2 1463.4 1888.2 1463.3 1891.2 1463.2 1894.2 1463.2 1897.2 1463.1 1900.2 1463.0 1903.2 1463.0 1906.3 1462.9 1909.3 1462.8 1912.3 1462.8 1915.3 1462.7 1918.3 1462.6 1921.3 1462.6 1924.3 1462.5 1927.3 1462.4 1930.3 1462.3 1933.4 1462.3 1936.4 1462.2 1939.4 1462.1 1942.4 1462.0 1945.4 1462.0 1948.4 1461.9 1951.4 1461.8 1954.4 1461.7 1957.4 1461.6 1960.5 1461.6 1963.5 1461.5 1966.5 1461.4 1969.5 1461.3 1972.5 1461.3 1975.5 1461.2 1978.5 1461.1 1981.5 1461.0 1984.6 1460.9 1987.6 1460.9 1990.6 1460.8 1993.6 1460.7 1996.6 1460.6 1999.6 1460.6 2002.6 1460.5 2005.6 1460.4 2008.6 1460.3 2011.7 1460.3 2014.7 1460.2 2017.7 1460.1 2020.7 1460.0 2023.7 1460.0 2026.7 1459.9 2029.7 1459.8 2032.7 1459.7 2035.7 1459.7 2038.8 1459.6 2041.8 1459.5 2044.8 1459.5 2047.8 1459.4 2050.8 1459.3 2053.8 1459.2 2056.8 1459.2 2059.8 1459.1 2062.9 1459.0 2065.9 1459.0 2068.9 1458.9 2071.9 1458.8 2074.9 1458.8 2077.9 1458.7 2080.9 1458.6 2083.9 1458.5 2086.9 1458.5 2090.0 1458.4 2093.0 1458.3 2096.0 1458.3 2099.0 1458.2 2102.0 1458.1 2105.0 1458.1 2108.0 1458.0 2111.0 1457.9 2114.0 1457.9 2117.1 1457.8 2120.1 1457.7 2123.1 1457.7 2126.1 1457.6 2129.1 1457.5 2132.1 1457.5 2135.1 1457.4 2138.1 1457.3 2141.2 1457.3 2144.2 1457.2 2147.2 1457.1 2150.2 1457.1 2153.2 1457.0" stroke="#0000dd" stroke-width="5.3" fill="none" stroke-linejoin="round"/>
<g stroke="#008404" stroke-width="5.6" fill="none">
<path d="M801.3 83.4V211.1"/>
<path d="M750.3 211.1H1447.5"/>
<path d="M1444.8 208.3V1471.4"/>
<path d="M1360 1441H1559"/>
<path d="M1357 1469H1736"/>
<path d="M801.5 1539.2V1585.6"/>
<path d="M1445.3 1533.7V1585.6"/>
</g>
<path d="M1559.6 1539.7V1584" stroke="#008404" stroke-width="4.2" fill="none"/>
<path d="M1726 1543V1584" stroke="#0a9a2a" stroke-width="3.6" fill="none"/>
<path d="M398.5 442.3H572.6" stroke="#0000dd" stroke-width="5.6"/>
<path d="M398.5 578.7H572.6" stroke="#ff0000" stroke-width="6"/>
<text x="592.3" y="472.7" textLength="207.1" lengthAdjust="spacingAndGlyphs" style="font-size:65px;fill:#0000dd">% Mass</text>
<text x="592.6" y="608.2" textLength="400.7" lengthAdjust="spacingAndGlyphs" style="font-size:65px;fill:#ff0000">DSC (mW/mg)</text>
<text x="147.3" y="102.0" textLength="95.4" lengthAdjust="spacingAndGlyphs" style="font-size:65px">100</text>
<text x="183.3" y="317.8" textLength="64.0" lengthAdjust="spacingAndGlyphs" style="font-size:65px">90</text>
<text x="182.2" y="533.6" textLength="65.0" lengthAdjust="spacingAndGlyphs" style="font-size:65px">80</text>
<text x="181.7" y="749.4" textLength="65.6" lengthAdjust="spacingAndGlyphs" style="font-size:65px">70</text>
<text x="181.9" y="965.2" textLength="65.4" lengthAdjust="spacingAndGlyphs" style="font-size:65px">60</text>
<text x="181.2" y="1181.1" textLength="66.2" lengthAdjust="spacingAndGlyphs" style="font-size:65px">50</text>
<text x="183.2" y="1396.9" textLength="64.0" lengthAdjust="spacingAndGlyphs" style="font-size:65px">40</text>
<text x="181.5" y="1612.7" textLength="65.8" lengthAdjust="spacingAndGlyphs" style="font-size:65px">30</text>
<text x="2198.4" y="232.6" textLength="32.1" lengthAdjust="spacingAndGlyphs" style="font-size:65px">0</text>
<text x="2198.0" y="575.8" textLength="100.0" lengthAdjust="spacingAndGlyphs" style="font-size:65px">-0.5</text>
<text x="2197.9" y="919.0" textLength="54.0" lengthAdjust="spacingAndGlyphs" style="font-size:65px">-1</text>
<text x="2198.3" y="1262.2" textLength="99.5" lengthAdjust="spacingAndGlyphs" style="font-size:65px">-1.5</text>
<text x="2198.2" y="1605.4" textLength="54.0" lengthAdjust="spacingAndGlyphs" style="font-size:65px">-2</text>
<text x="284.2" y="1688.0" textLength="32.7" lengthAdjust="spacingAndGlyphs" style="font-size:65px">0</text>
<text x="555.3" y="1688.0" textLength="97.2" lengthAdjust="spacingAndGlyphs" style="font-size:65px">100</text>
<text x="864.2" y="1688.0" textLength="94.6" lengthAdjust="spacingAndGlyphs" style="font-size:65px">200</text>
<text x="1174.0" y="1688.0" textLength="94.9" lengthAdjust="spacingAndGlyphs" style="font-size:65px">300</text>
<text x="1484.5" y="1688.0" textLength="92.8" lengthAdjust="spacingAndGlyphs" style="font-size:65px">400</text>
<text x="1788.8" y="1688.0" textLength="96.2" lengthAdjust="spacingAndGlyphs" style="font-size:65px">500</text>
<text x="2099.6" y="1688.0" textLength="94.3" lengthAdjust="spacingAndGlyphs" style="font-size:65px">600</text>
<text x="756.8" y="1644.0" textLength="82.6" lengthAdjust="spacingAndGlyphs" style="font-size:55.5px">160</text>
<text x="1400.6" y="1644.0" textLength="80.9" lengthAdjust="spacingAndGlyphs" style="font-size:55.5px">370</text>
<text x="1538.7" y="1644.0" textLength="78.3" lengthAdjust="spacingAndGlyphs" style="font-size:55.5px">410</text>
<text x="1688.0" y="1644.0" textLength="77.5" lengthAdjust="spacingAndGlyphs" style="font-size:55.5px">470</text>
<text x="1918.4" y="1764.8" textLength="154.1" lengthAdjust="spacingAndGlyphs" style="font-size:65px">T (ºC)</text>
<path d="M1992.8 1745.1H2008.8" stroke="#000" stroke-width="2.6"/>
<text x="831.3" y="150.3" textLength="180.5" lengthAdjust="spacingAndGlyphs" style="font-size:65px">-6.23%</text>
<text x="1205.5" y="846.3" textLength="211.3" lengthAdjust="spacingAndGlyphs" style="font-size:65px">-57.06%</text>
<text x="1169.7" y="1478.2" textLength="180.7" lengthAdjust="spacingAndGlyphs" style="font-size:65px">-1.14%</text>
<text transform="translate(84.5 938.8) rotate(-90)" x="-2.4 49.6 72.5 135.7 167.5 196.8" style="font-size:62.5px">% Mass</text>
<text transform="translate(2369 630.1) rotate(90)" textLength="398.4" lengthAdjust="spacingAndGlyphs" style="font-size:65px">DSC (mW/mg)</text>
</svg></body></html>
